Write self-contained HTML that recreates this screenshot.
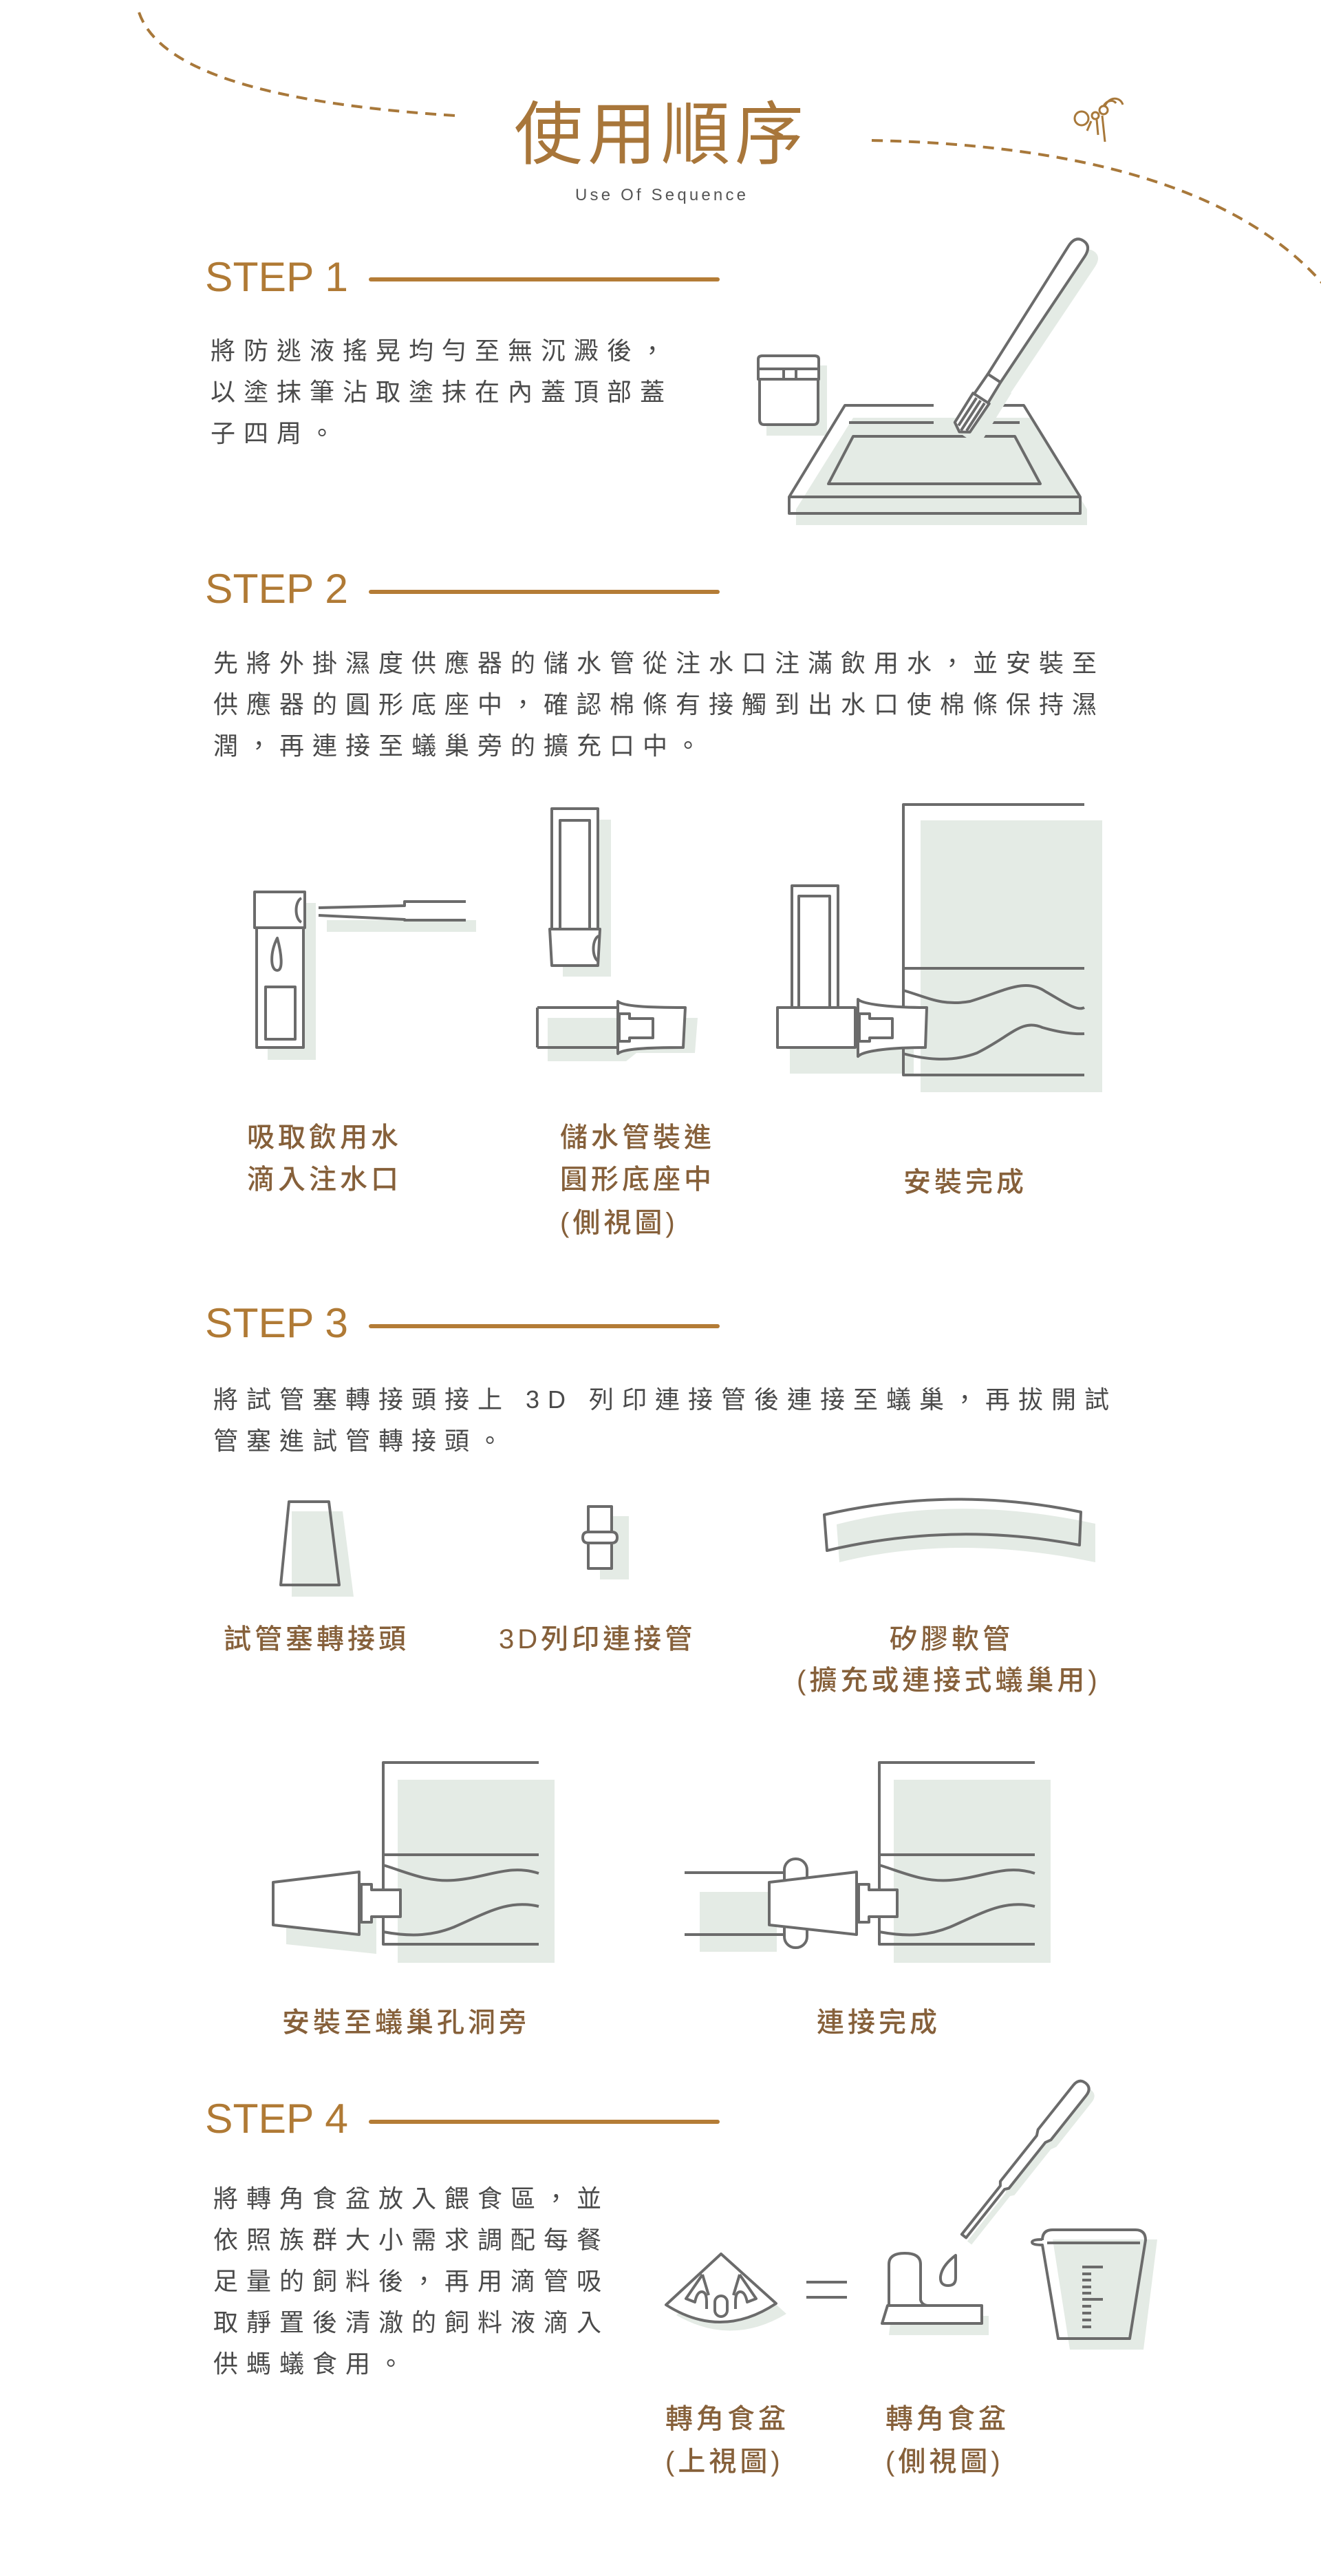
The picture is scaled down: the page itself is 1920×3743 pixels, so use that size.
<!DOCTYPE html>
<html><head><meta charset="utf-8"><style>
html,body{margin:0;padding:0;background:#fff}
svg{display:block}
.b{font-family:"Liberation Sans","Noto Sans CJK TC",sans-serif;font-size:36px;letter-spacing:12px;fill:#4a4a4a}
.l{font-family:"Liberation Sans","Noto Sans CJK TC",sans-serif;font-size:40px;letter-spacing:5px;fill:#86603a;font-weight:500}
.s{font-family:"Liberation Sans","Noto Sans CJK TC",sans-serif;font-size:60px;fill:#b07a35}
.g{fill:none;stroke:#6b6b6b;stroke-width:4;stroke-linejoin:round}
.gw{fill:#fff;stroke:#6b6b6b;stroke-width:4;stroke-linejoin:round}
.sh{fill:#e4ebe5;stroke:none}
</style></head><body>
<svg width="1920" height="3743" viewBox="0 0 1920 3743" xmlns="http://www.w3.org/2000/svg">
<path d="M202,18 C230,100 380,150 662,168" fill="none" stroke="#a8783a" stroke-width="4" stroke-dasharray="16 11"/>
<path d="M1267,204 C1560,210 1800,270 1925,415" fill="none" stroke="#a8783a" stroke-width="4" stroke-dasharray="16 11"/>
<g fill="none" stroke="#a8783a" stroke-width="3">
<circle cx="1572" cy="172" r="10"/><circle cx="1592" cy="168" r="5"/><circle cx="1604" cy="160" r="6"/>
<path d="M1604,154 C1608,146 1618,144 1622,150 M1606,154 C1612,140 1628,140 1632,152"/>
<path d="M1586,176 L1580,190 M1594,174 L1596,196 M1602,168 L1606,206"/>
</g>
<text x="961" y="230" text-anchor="middle" font-family="Liberation Sans,'Noto Sans CJK TC',sans-serif" font-size="100" letter-spacing="7" fill="#a8763a">使用順序</text>
<text x="836" y="291" textLength="248" font-family="Liberation Sans,sans-serif" font-size="24" fill="#555">Use Of Sequence</text>

<text class="s" x="298" y="423" textLength="208" lengthAdjust="spacingAndGlyphs">STEP 1</text>
<line x1="539" y1="406" x2="1043" y2="406" stroke="#b47c36" stroke-width="6" stroke-linecap="round"/>
<text class="b" x="306" y="522">將防逃液搖晃均勻至無沉澱後，</text>
<text class="b" x="306" y="582">以塗抹筆沾取塗抹在內蓋頂部蓋</text>
<text class="b" x="306" y="642">子四周。</text>
<rect class="sh" x="1114" y="531" width="88" height="102"/>
<path class="gw" d="M1104,551 L1104,610 Q1104,617 1111,617 L1182,617 Q1189,617 1189,610 L1189,551 Z"/>
<rect class="gw" x="1102" y="536" width="88" height="15"/>
<path class="gw" d="M1102,536 L1102,522 Q1102,517 1108,517 L1184,517 Q1190,517 1190,522 L1190,536 Z"/>
<line class="g" x1="1139" y1="536" x2="1139" y2="551"/><line class="g" x1="1157" y1="536" x2="1157" y2="551"/>
<polygon class="sh" points="1240,607 1500,607 1580,740 1580,763 1157,763 1157,740"/>
<path class="g" d="M1357,589 L1228,589 L1147,722 L1147,746 L1570,746 L1570,722 L1488,589 L1439,589 M1147,722 L1570,722 M1234,614 L1357,614 M1439,614 L1482,614"/>
<polygon class="g" points="1240,634 1475,634 1512,703 1204,703"/>
<g transform="translate(1411,640) rotate(33)"><path class="sh" d="M-14,0 L14,0 L12,-90 L11,-90 L14,-310 Q14,-328 0,-328 Q-14,-328 -14,-310 L-11,-90 L-12,-90 Z"/></g>
<g transform="translate(1396,625) rotate(33)">
<path class="gw" d="M-11,-90 L-14,-310 Q-14,-328 0,-328 Q14,-328 14,-310 L11,-90 Z"/>
<path class="gw" d="M-12,-55 L-11,-90 L11,-90 L12,-55 Z"/>
<path class="gw" d="M-14,-55 L14,-55 L13,-5 L0,3 L-13,-5 Z"/>
<path class="g" d="M-6,-52 L-6,-4 M1,-52 L1,0 M8,-52 L8,-4"/>
</g>

<text class="s" x="298" y="876" textLength="208" lengthAdjust="spacingAndGlyphs">STEP 2</text>
<line x1="539" y1="860" x2="1043" y2="860" stroke="#b47c36" stroke-width="6" stroke-linecap="round"/>
<text class="b" x="310" y="976">先將外掛濕度供應器的儲水管從注水口注滿飲用水，並安裝至</text>
<text class="b" x="310" y="1036">供應器的圓形底座中，確認棉條有接觸到出水口使棉條保持濕</text>
<text class="b" x="310" y="1096">潤，再連接至蟻巢旁的擴充口中。</text>
<rect class="sh" x="389" y="1312" width="70" height="228"/>
<rect class="sh" x="475" y="1337" width="217" height="17"/>
<rect class="gw" x="373" y="1348" width="68" height="174"/>
<rect class="g" x="386" y="1434" width="43" height="76"/>
<path class="g" d="M403,1363 C392,1385 393,1410 403,1410 C412,1410 409,1385 403,1363 Z"/>
<rect class="gw" x="370" y="1296" width="73" height="52"/>
<path class="g" d="M438,1305 C428,1310 428,1335 438,1340"/>
<path class="g" d="M463,1319 L588,1316 L588,1310 L677,1310 M463,1330 L588,1336 L588,1337 L677,1337"/>
<rect class="sh" x="818" y="1191" width="70" height="228"/>
<rect class="gw" x="802" y="1175" width="67" height="175"/>
<rect class="g" x="814" y="1192" width="43" height="158"/>
<polygon class="gw" points="799,1350 872,1350 869,1403 802,1403"/>
<path class="g" d="M870,1360 C860,1365 860,1392 870,1397"/>
<polygon class="sh" points="796,1479 1014,1479 1010,1530 925,1530 910,1542 796,1542"/>
<path class="g" d="M781,1464 L898,1464 M781,1522 L898,1522 M781,1464 L781,1522"/>
<path class="gw" d="M898,1455 C905,1462 940,1464 996,1464 L993,1522 C940,1522 905,1524 898,1531 Z"/>
<path class="g" d="M900,1473 L915,1473 L915,1480 L949,1480 L949,1508 L915,1508 L915,1513 L900,1513 Z"/>
<rect class="sh" x="1338" y="1192" width="264" height="395"/>
<rect class="sh" x="1157" y="1311" width="50" height="200"/>
<rect class="sh" x="1148" y="1480" width="180" height="80"/>
<path class="g" d="M1576,1169 L1313,1169 L1313,1562 L1576,1562 M1313,1407 L1576,1407"/>
<path class="g" d="M1313,1439 C1350,1450 1370,1462 1410,1455 C1460,1440 1490,1420 1520,1441 C1545,1455 1565,1470 1576,1464"/>
<path class="g" d="M1313,1531 C1340,1538 1380,1545 1420,1530 C1470,1505 1485,1480 1515,1493 C1540,1500 1560,1503 1576,1502"/>
<rect class="gw" x="1151" y="1287" width="67" height="177"/>
<rect class="g" x="1161" y="1302" width="45" height="162"/>
<rect class="gw" x="1130" y="1464" width="113" height="58"/>
<path class="gw" d="M1247,1452 C1255,1460 1300,1464 1347,1464 L1345,1522 C1300,1522 1255,1526 1247,1535 Z"/>
<path class="g" d="M1249,1473 L1264,1473 L1264,1480 L1297,1480 L1297,1508 L1264,1508 L1264,1513 L1249,1513 Z"/>
<text class="l" x="359" y="1666">吸取飲用水</text>
<text class="l" x="359" y="1727">滴入注水口</text>
<text class="l" x="814" y="1666">儲水管裝進</text>
<text class="l" x="814" y="1727">圓形底座中</text>
<text class="l" x="814" y="1790">(側視圖)</text>
<text class="l" x="1313" y="1731">安裝完成</text>

<text class="s" x="298" y="1943" textLength="208" lengthAdjust="spacingAndGlyphs">STEP 3</text>
<line x1="539" y1="1927" x2="1043" y2="1927" stroke="#b47c36" stroke-width="6" stroke-linecap="round"/>
<text class="b" x="310" y="2046">將試管塞轉接頭接上 3D 列印連接管後連接至蟻巢，再拔開試</text>
<text class="b" x="310" y="2106">管塞進試管轉接頭。</text>
<polygon class="sh" points="424,2196 498,2196 514,2320 424,2320"/>
<polygon class="g" points="420,2182 478,2182 493,2303 408,2303"/>
<rect class="sh" x="872" y="2203" width="42" height="92"/>
<path class="gw" d="M855,2189 L889,2189 L889,2226 Q897,2226 897,2234 Q897,2242 889,2242 L889,2279 L855,2279 L855,2242 Q847,2242 847,2234 Q847,2226 855,2226 Z"/>
<line class="g" x1="855" y1="2226" x2="889" y2="2226"/><line class="g" x1="855" y1="2242" x2="889" y2="2242"/>
<path class="sh" d="M1216,2215 Q1390,2170 1592,2214 L1592,2270 Q1390,2228 1220,2270 Z"/>
<path class="g" d="M1198,2201 Q1385,2158 1571,2197 L1569,2245 Q1385,2210 1202,2253 Z"/>
<text class="l" x="325" y="2395">試管塞轉接頭</text>
<text class="l" x="725" y="2395">3D列印連接管</text>
<text class="l" x="1293" y="2395">矽膠軟管</text>
<text class="l" x="1158" y="2455">(擴充或連接式蟻巢用)</text>
<rect class="sh" x="578" y="2586" width="228" height="266"/>
<polygon class="sh" points="416,2763 547,2750 547,2839 416,2825"/>
<path class="g" d="M783,2561 L557,2561 L557,2825 L783,2825 M557,2695 L783,2695"/>
<path class="g" d="M557,2710 C590,2720 620,2735 660,2732 C710,2728 740,2708 783,2722"/>
<path class="g" d="M557,2807 C600,2815 630,2812 660,2800 C710,2778 740,2760 783,2770"/>
<polygon class="gw" points="397,2735 522,2720 522,2811 397,2797"/>
<path class="gw" d="M525,2738 L540,2738 L540,2746 L582,2746 L582,2785 L540,2785 L540,2793 L525,2793 Z"/>
<rect class="sh" x="1299" y="2586" width="228" height="266"/>
<rect class="sh" x="1017" y="2749" width="112" height="87"/>
<path class="g" d="M1504,2561 L1278,2561 L1278,2825 L1504,2825 M1278,2695 L1504,2695"/>
<path class="g" d="M1278,2710 C1311,2720 1341,2735 1381,2732 C1431,2728 1461,2708 1504,2722"/>
<path class="g" d="M1278,2807 C1321,2815 1351,2812 1381,2800 C1431,2778 1461,2760 1504,2770"/>
<path class="g" d="M995,2721 L1142,2721 M995,2811 L1142,2811"/>
<rect class="gw" x="1140" y="2701" width="33" height="129" rx="16"/>
<polygon class="gw" points="1118,2735 1245,2720 1245,2811 1118,2797"/>
<path class="gw" d="M1248,2738 L1263,2738 L1263,2746 L1304,2746 L1304,2785 L1263,2785 L1263,2793 L1248,2793 Z"/>
<text class="l" x="410" y="2952">安裝至蟻巢孔洞旁</text>
<text class="l" x="1187" y="2952">連接完成</text>

<text class="s" x="298" y="3099" textLength="208" lengthAdjust="spacingAndGlyphs">STEP 4</text>
<line x1="539" y1="3083" x2="1043" y2="3083" stroke="#b47c36" stroke-width="6" stroke-linecap="round"/>
<text class="b" x="310" y="3207">將轉角食盆放入餵食區，並</text>
<text class="b" x="310" y="3267">依照族群大小需求調配每餐</text>
<text class="b" x="310" y="3327">足量的飼料後，再用滴管吸</text>
<text class="b" x="310" y="3387">取靜置後清澈的飼料液滴入</text>
<text class="b" x="310" y="3447">供螞蟻食用。</text>
<path class="sh" d="M1063,3290 L1143,3362 Q1063,3410 983,3364 Z"/>
<path class="gw" d="M1048,3275 L1128,3347 Q1048,3400 968,3349 Z"/>
<path class="g" d="M1021,3305 L997,3340 L1010,3345 Q1013,3330 1020,3330 Q1027,3330 1027,3345 L1027,3355 M1075,3305 L1099,3340 L1086,3345 Q1083,3330 1076,3330 Q1069,3330 1069,3345 L1069,3355 M1021,3305 L1030,3335 M1075,3305 L1066,3335"/>
<rect class="g" x="1039" y="3336" width="18" height="30" rx="9"/>
<line class="g" x1="1172" y1="3316" x2="1231" y2="3316"/><line class="g" x1="1172" y1="3338" x2="1231" y2="3338"/>
<path class="sh" d="M1302,3305 Q1302,3290 1316,3290 Q1332,3290 1332,3305 L1332,3365 L1437,3365 L1437,3393 L1292,3393 Z"/>
<path class="gw" d="M1292,3349 L1292,3290 Q1292,3274 1315,3274 Q1338,3274 1338,3290 L1338,3342 Q1340,3349 1348,3350 L1427,3350 L1427,3376 L1282,3376 L1290,3350 Z"/>
<path class="g" d="M1290,3350 L1348,3350"/>
<path class="g" d="M1389,3277 L1389,3310 Q1389,3321 1378,3321 Q1366,3321 1367,3308 Q1369,3292 1389,3277 Z"/>
<g transform="translate(1409,3259) rotate(38.5)"><path class="sh" d="M-4,0 L-4,-90 L-8,-95 L-8,-180 L-12,-188 L-12,-270 Q-12,-284 0,-284 Q12,-284 12,-270 L12,-188 L8,-180 L8,-95 L4,-90 L4,0 Z"/></g>
<g transform="translate(1401,3249) rotate(38.5)"><path class="gw" d="M-4,0 L-4,-90 L-8,-95 L-8,-180 L-12,-188 L-12,-270 Q-12,-284 0,-284 Q12,-284 12,-270 L12,-188 L8,-180 L8,-95 L4,-90 L4,0 Z"/></g>
<polygon class="sh" points="1530,3254 1682,3254 1662,3414 1555,3414"/>
<path class="g" d="M1515,3255 Q1515,3240 1530,3240 L1650,3240 Q1665,3240 1665,3255 L1642,3398 L1538,3398 L1515,3262 Q1500,3262 1500,3258 Q1500,3254 1515,3254 M1522,3259 L1657,3259"/>
<path class="g" d="M1573,3294 L1603,3294 M1573,3304 L1586,3304 M1573,3313 L1586,3313 M1573,3323 L1586,3323 M1573,3332 L1586,3332 M1573,3341 L1603,3341 M1573,3351 L1586,3351 M1573,3361 L1586,3361 M1573,3371 L1586,3371 M1573,3381 L1586,3381"/>
<text class="l" x="967" y="3528">轉角食盆</text>
<text class="l" x="967" y="3590">(上視圖)</text>
<text class="l" x="1287" y="3528">轉角食盆</text>
<text class="l" x="1287" y="3590">(側視圖)</text>
</svg>
</body></html>
